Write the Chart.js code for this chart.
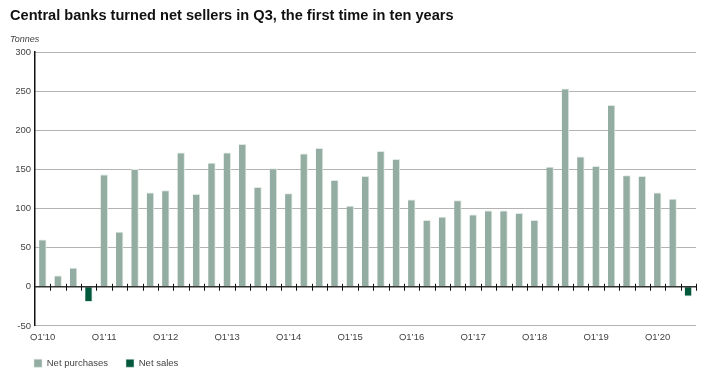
<!DOCTYPE html>
<html lang="en">
<head>
    <meta charset="UTF-8">
    <title>Central bank net purchases</title>
    <script src="https://cdn.jsdelivr.net/npm/chart.js"></script>
    <style>
        body {
            margin: 0;
            padding: 0;
            background: #fff;
            font-family: 'Liberation Sans', Arial, sans-serif;
        }
        #wrap {
            position: relative;
            width: 719px;
            height: 374px;
        }
        #title {
            position: absolute;
            left: 10px;
            top: 7px;
            font-size: 14.6px;
            font-weight: bold;
            color: #111;
            white-space: nowrap;
        }
        #unit {
            position: absolute;
            left: 10px;
            top: 34px;
            font-size: 9px;
            font-style: italic;
            color: #444;
        }
        #chart {
            position: absolute;
            left: 0;
            top: 0;
        }
    </style>
</head>
<body>
    <div id="wrap">
        <canvas id="chart" width="719" height="374"></canvas>
        <div id="title">Central banks turned net sellers in Q3, the first time in ten years</div>
        <div id="unit">Tonnes</div>
    </div>

    <script>
        // quarterly net central bank demand, Q1'10 .. Q3'20 (tonnes)
        const quarters = [
            "Q1’10", "Q2’10", "Q3’10", "Q4’10",
            "Q1’11", "Q2’11", "Q3’11", "Q4’11",
            "Q1’12", "Q2’12", "Q3’12", "Q4’12",
            "Q1’13", "Q2’13", "Q3’13", "Q4’13",
            "Q1’14", "Q2’14", "Q3’14", "Q4’14",
            "Q1’15", "Q2’15", "Q3’15", "Q4’15",
            "Q1’16", "Q2’16", "Q3’16", "Q4’16",
            "Q1’17", "Q2’17", "Q3’17", "Q4’17",
            "Q1’18", "Q2’18", "Q3’18", "Q4’18",
            "Q1’19", "Q2’19", "Q3’19", "Q4’19",
            "Q1’20", "Q2’20", "Q3’20"
        ];
        const tonnes = [
            60, 14, 24, -19,
            143, 70, 150, 120,
            123, 171, 118, 158,
            171, 182, 127, 151,
            119, 170, 177, 136,
            103, 141, 173, 163,
            111, 85, 89, 110,
            92, 97, 97, 94,
            85, 153, 253, 166,
            154, 232, 142, 141,
            120, 112, -12
        ];
        const yTicks = [-50, 0, 50, 100, 150, 200, 250, 300];

        const purchases = tonnes.map(v => v >= 0 ? v : null);
        const sales = tonnes.map(v => v < 0 ? v : null);

        // zero line with small tick marks between quarters
        const zeroLine = {
            id: 'zeroLine',
            afterDatasetsDraw(chart) {
                const ctx = chart.ctx;
                const x = chart.scales.x;
                const y0 = chart.scales.y.getPixelForValue(0);
                ctx.save();
                ctx.strokeStyle = '#333';
                ctx.lineWidth = 1.5;
                ctx.beginPath();
                ctx.moveTo(x.left, y0);
                ctx.lineTo(x.right, y0);
                ctx.stroke();
                ctx.lineWidth = 1;
                ctx.strokeStyle = '#111';
                const step = (x.right - x.left) / quarters.length;
                for (let i = 1; i <= quarters.length; i++) {
                    const px = Math.round(x.left + i * step) + 0.5;
                    ctx.beginPath();
                    ctx.moveTo(px, y0 - 3);
                    ctx.lineTo(px, y0 + 4);
                    ctx.stroke();
                }
                ctx.restore();
            }
        };

        new Chart(document.getElementById('chart'), {
            type: 'bar',
            data: {
                labels: quarters,
                datasets: [
                    {
                        label: 'Net purchases',
                        data: purchases,
                        backgroundColor: '#94ada2',
                        borderColor: '#dfe8e3',
                        borderWidth: { top: 1, right: 1, left: 0, bottom: 0 },
                        barThickness: 7
                    },
                    {
                        label: 'Net sales',
                        data: sales,
                        backgroundColor: '#00583d',
                        borderColor: '#dfe8e3',
                        borderWidth: { top: 0, right: 1, left: 0, bottom: 1 },
                        barThickness: 7
                    }
                ]
            },
            options: {
                responsive: false,
                animation: false,
                layout: { padding: { top: 52, right: 23, left: 16, bottom: -4 } },
                plugins: {
                    tooltip: { enabled: false },
                    legend: {
                        position: 'bottom',
                        align: 'start',
                        labels: {
                            boxWidth: 8,
                            boxHeight: 8,
                            padding: 18,
                            color: '#444',
                            font: { family: 'Liberation Sans', size: 9.5 }
                        }
                    }
                },
                scales: {
                    x: {
                        stacked: true,
                        offset: true,
                        afterFit: s => { s.height = 14.6; },
                        grid: { display: false, tickLength: 6 },
                        border: { display: false },
                        ticks: {
                            autoSkip: false,
                            maxRotation: 0,
                            padding: 0,
                            color: '#444',
                            font: { family: 'Liberation Sans', size: 9.5 },
                            callback: (v, i) => i % 4 === 0 ? quarters[i] : ''
                        }
                    },
                    y: {
                        min: -50,
                        max: 300,
                        afterFit: s => { s.width = 19; },
                        afterBuildTicks: s => { s.ticks = yTicks.map(v => ({ value: v })); },
                        border: { display: true, color: '#111', width: 1.5, dash: [1, 1] },
                        grid: {
                            color: '#666',
                            lineWidth: 1,
                            drawTicks: false
                        },
                        ticks: {
                            padding: 4,
                            color: '#444',
                            font: { family: 'Liberation Sans', size: 9.5 }
                        }
                    }
                }
            },
            plugins: [zeroLine]
        });
    </script>
</body>
</html>
